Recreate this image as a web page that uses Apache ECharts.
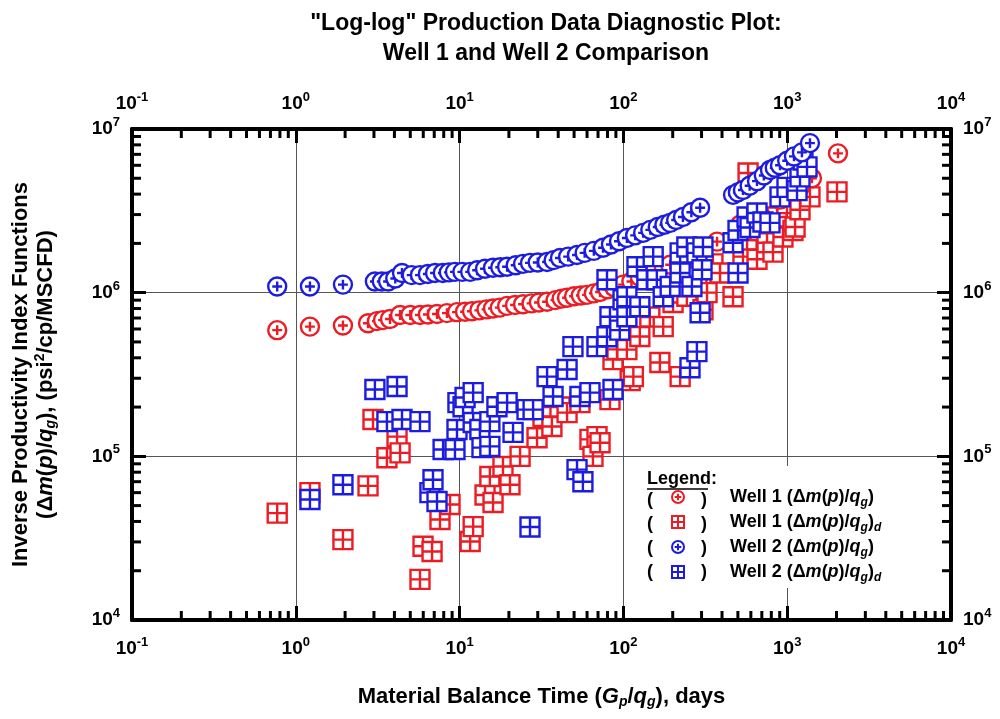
<!DOCTYPE html>
<html>
<head>
<meta charset="utf-8">
<title>Log-log Production Data Diagnostic Plot</title>
<script src="https://cdn.jsdelivr.net/npm/echarts@6.0.0/dist/echarts.min.js"></script>
<style>
html, body { margin: 0; padding: 0; background: #fff; }
#chart { width: 1000px; height: 719px; }
</style>
</head>
<body>
<div id="chart"></div>
<script>
// Well 1, (Δm(p)/qg) : [material balance time (days), value]
var well1Rate = [
  [0.77, 5.9e5], [1.22, 6.2e5], [1.94, 6.3e5], [2.76, 6.5e5], [3.13, 6.7e5], [3.41, 6.8e5],
  [3.76, 6.9e5], [4.33, 7.3e5], [5.0, 7.3e5], [5.73, 7.3e5], [6.41, 7.35e5], [7.28, 7.4e5],
  [8.37, 7.5e5], [9.64, 7.6e5], [10.8, 7.65e5], [11.9, 7.7e5], [13.2, 7.8e5], [14.6, 7.9e5],
  [16.0, 8.0e5], [17.6, 8.1e5], [19.5, 8.3e5], [21.8, 8.4e5], [24.4, 8.5e5], [27.5, 8.6e5],
  [30.5, 8.7e5], [34.2, 8.8e5], [38.5, 9.0e5], [42, 9.2e5], [45.3, 9.3e5], [50, 9.5e5],
  [55, 9.6e5], [60, 9.7e5], [66, 9.9e5], [72, 1.01e6], [80, 1.05e6], [88, 1.08e6],
  [99.5, 1.12e6], [112, 1.17e6], [126, 1.25e6], [156, 1.36e6], [193, 1.48e6], [238, 1.63e6],
  [294, 1.83e6], [373, 2.05e6], [515, 2.6e6], [682, 3.0e6], [904, 3.7e6], [1197, 4.4e6],
  [1416, 5.0e6], [2042, 7.1e6]
];
// Well 1, (Δm(p)/qg)d
var well1Deriv = [
  [0.77, 4.5e4], [1.22, 6.0e4], [1.94, 3.1e4], [2.76, 6.6e4], [2.96, 1.68e5], [3.60, 9.8e4],
  [4.15, 1.32e5], [4.33, 1.05e5], [5.73, 1.77e4], [5.98, 2.82e4], [6.79, 2.62e4], [7.59, 4.11e4],
  [8.74, 5.08e4], [11.6, 3.02e4], [12.1, 3.72e4], [14.3, 5.8e4], [15.3, 7.53e4], [16.0, 5.22e4],
  [18.4, 8.67e4], [20.3, 6.7e4], [23.4, 1.0e5], [29.7, 1.30e5], [32.3, 1.75e5], [36.6, 1.52e5],
  [41.0, 2.0e5], [45.3, 1.85e5], [54.3, 2.13e5], [62.5, 1.27e5], [65.2, 1.0e5], [69.0, 1.32e5],
  [72.0, 1.21e5], [82.8, 2.22e5], [86.4, 3.9e5], [91.4, 4.5e5], [105, 4.49e5], [110, 2.9e5],
  [115, 3.07e5], [126, 5.4e5], [145, 7.1e5], [167, 3.74e5], [175, 6.2e5], [201, 8.7e5],
  [222, 3.07e5], [244, 9.5e5], [281, 1.25e6], [306, 7.87e5], [324, 1.0e6], [352, 1.5e6],
  [389, 1.32e6], [467, 9.45e5], [537, 1.66e6], [569, 2.1e6], [577, 5.39e6], [654, 1.6e6],
  [682, 2.4e6], [753, 2.02e6], [819, 1.77e6], [867, 2.9e6], [942, 2.19e6], [997, 3.5e6],
  [1084, 2.4e6], [1117, 2.52e6], [1197, 3.21e6], [1377, 3.85e6], [2014, 4.13e6]
];
// Well 2, (Δm(p)/qg)
var well2Rate = [
  [0.77, 1.09e6], [1.22, 1.09e6], [1.94, 1.12e6], [3.04, 1.17e6], [3.35, 1.17e6], [3.66, 1.17e6],
  [4.05, 1.22e6], [4.45, 1.32e6], [5.1, 1.28e6], [5.73, 1.28e6], [6.4, 1.30e6], [7.08, 1.32e6],
  [7.9, 1.32e6], [8.6, 1.33e6], [9.37, 1.34e6], [10.4, 1.34e6], [11.6, 1.34e6], [12.8, 1.37e6],
  [14.3, 1.40e6], [16.0, 1.42e6], [17.7, 1.43e6], [19.5, 1.44e6], [22.0, 1.47e6], [24.4, 1.50e6],
  [26.9, 1.52e6], [30.0, 1.53e6], [34.2, 1.54e6], [37.5, 1.58e6], [41.0, 1.63e6], [46, 1.66e6],
  [52.1, 1.70e6], [58, 1.75e6], [66, 1.80e6], [75.1, 1.88e6], [84, 1.97e6], [94, 2.06e6],
  [105, 2.16e6], [118, 2.24e6], [132, 2.32e6], [146, 2.42e6], [162, 2.52e6], [178, 2.60e6],
  [193, 2.67e6], [210, 2.78e6], [231, 2.9e6], [260, 3.1e6], [294, 3.3e6], [467, 3.96e6],
  [500, 4.1e6], [537, 4.24e6], [590, 4.5e6], [654, 4.8e6], [720, 5.2e6], [785, 5.62e6],
  [840, 5.8e6], [904, 6.0e6], [1000, 6.4e6], [1100, 6.8e6], [1230, 7.2e6], [1377, 8.2e6]
];
// Well 2, (Δm(p)/qg)d
var well2Deriv = [
  [1.22, 5.45e4], [1.94, 6.7e4], [3.04, 2.56e5], [3.60, 1.63e5], [4.15, 2.67e5], [4.45, 1.68e5],
  [5.73, 1.63e5], [6.59, 6.0e4], [6.88, 7.2e4], [7.28, 5.3e4], [7.93, 1.1e5], [9.37, 1.1e5],
  [9.64, 1.46e5], [9.77, 2.13e5], [10.5, 2.01e5], [10.8, 2.29e5], [12.1, 1.61e5], [12.1, 2.45e5],
  [13.3, 1.46e5], [13.7, 1.13e5], [15.3, 1.63e5], [15.3, 1.15e5], [16.9, 2.01e5], [19.5, 2.13e5],
  [21.2, 1.40e5], [25.8, 1.93e5], [26.9, 3.7e4], [28.1, 1.93e5], [34.2, 3.07e5], [37.2, 2.32e5],
  [45.3, 3.39e5], [49.2, 4.68e5], [52.1, 8.3e4], [54.3, 2.32e5], [56.6, 7.0e4], [62.5, 2.45e5],
  [69.0, 4.68e5], [79.4, 5.38e5], [79.4, 1.20e6], [82.8, 7.13e5], [86.4, 2.56e5], [95, 5.9e5],
  [99.5, 9.05e5], [105, 9.45e5], [105, 7.13e5], [121, 1.44e6], [126, 8.2e5], [139, 1.2e6],
  [152, 1.66e6], [160, 1.2e6], [175, 9.45e5], [193, 1.09e6], [222, 1.75e6], [222, 1.32e6],
  [244, 1.9e6], [255, 3.48e5], [262, 1.09e6], [281, 1.75e6], [281, 4.36e5], [294, 7.54e5],
  [302, 1.38e6], [306, 1.9e6], [467, 2.02e6], [501, 1.32e6], [501, 2.4e6], [569, 2.9e6],
  [593, 2.5e6], [654, 3.07e6], [711, 2.7e6], [785, 2.67e6], [904, 3.85e6], [997, 4.4e6],
  [1148, 4.2e6], [1197, 5.1e6], [1248, 6.47e6], [1321, 5.87e6]
];

// minor tick positions (2..9 of each decade)
var xMinorTicks = [0.2, 0.3, 0.4, 0.5, 0.6, 0.7, 0.8, 0.9, 2, 3, 4, 5, 6, 7, 8, 9,
  20, 30, 40, 50, 60, 70, 80, 90, 200, 300, 400, 500, 600, 700, 800, 900,
  2000, 3000, 4000, 5000, 6000, 7000, 8000, 9000];
var yMinorTicks = [2e4, 3e4, 4e4, 5e4, 6e4, 7e4, 8e4, 9e4, 2e5, 3e5, 4e5, 5e5, 6e5, 7e5, 8e5, 9e5,
  2e6, 3e6, 4e6, 5e6, 6e6, 7e6, 8e6, 9e6];

var seriesNames = ['Well 1 (Δm(p)/qg)', 'Well 1 (Δm(p)/qg)d', 'Well 2 (Δm(p)/qg)', 'Well 2 (Δm(p)/qg)d'];

var FONT = '"Liberation Sans", Arial, Helvetica, sans-serif';
var RED = '#ec1c24';
var BLUE = '#1c1ce0';
var circlePlus = 'path://M0,10A10,10,0,1,1,20,10A10,10,0,1,1,0,10ZM10,4.5L10,15.5M4.5,10L15.5,10';
var squareGrid = 'path://M0,0L20,0L20,20L0,20ZM10,0L10,20M0,10L20,10';

var tickRich = {
  b: { fontFamily: FONT, fontWeight: 'bold', fontSize: 19, lineHeight: 26, color: '#000' },
  s: { fontFamily: FONT, fontWeight: 'bold', fontSize: 13, lineHeight: 13, verticalAlign: 'top', color: '#000' }
};
var nameRich = {
  r: { fontFamily: FONT, fontWeight: 'bold', fontSize: 22, lineHeight: 25, color: '#000' },
  i: { fontFamily: FONT, fontWeight: 'bold', fontStyle: 'italic', fontSize: 22, lineHeight: 25, color: '#000' },
  sub: { fontFamily: FONT, fontWeight: 'bold', fontStyle: 'italic', fontSize: 14, lineHeight: 13, verticalAlign: 'bottom', color: '#000' },
  sup: { fontFamily: FONT, fontWeight: 'bold', fontSize: 14, lineHeight: 13, verticalAlign: 'top', color: '#000' }
};
var legendRich = {
  f: { fontFamily: FONT, fontWeight: 'bold', fontSize: 18, lineHeight: 24, color: '#000', padding: [0, 0, 0, 41] },
  t: { fontFamily: FONT, fontWeight: 'bold', fontSize: 18, lineHeight: 24, color: '#000' },
  i: { fontFamily: FONT, fontWeight: 'bold', fontStyle: 'italic', fontSize: 18, lineHeight: 24, color: '#000' },
  sub: { fontFamily: FONT, fontWeight: 'bold', fontStyle: 'italic', fontSize: 12, lineHeight: 12, verticalAlign: 'bottom', color: '#000' }
};

function powLabel(v) {
  var e = Math.round(Math.log10(v));
  return '{b|10}{s|' + e + '}';
}

function legendLabel(name) {
  var well = name.slice(0, 6);
  var s = '{f|' + well + ' (Δ}{i|m}{t|(}{i|p}{t|)/}{i|q}{sub|g}{t|)}';
  if (name.charAt(name.length - 1) === 'd') s += '{sub|d}';
  return s;
}

function renderXMinor(params, api) {
  var cs = params.coordSys;
  var x = api.coord([api.value(0), api.value(1)])[0];
  var bottom = cs.y + cs.height;
  return {
    type: 'group',
    children: [
      { type: 'line', shape: { x1: x, y1: bottom, x2: x, y2: bottom - 9 }, style: { stroke: '#000', lineWidth: 3 } },
      { type: 'line', shape: { x1: x, y1: cs.y, x2: x, y2: cs.y + 9 }, style: { stroke: '#000', lineWidth: 3 } }
    ]
  };
}
function renderYMinor(params, api) {
  var cs = params.coordSys;
  var y = api.coord([api.value(0), api.value(1)])[1];
  var right = cs.x + cs.width;
  return {
    type: 'group',
    children: [
      { type: 'line', shape: { x1: cs.x, y1: y, x2: cs.x + 9, y2: y }, style: { stroke: '#000', lineWidth: 3 } },
      { type: 'line', shape: { x1: right, y1: y, x2: right - 9, y2: y }, style: { stroke: '#000', lineWidth: 3 } }
    ]
  };
}

function logAxis(position, min, max, withGrid, margin) {
  return {
    type: 'log',
    logBase: 10,
    position: position,
    min: min,
    max: max,
    axisLine: { show: true, onZero: false, lineStyle: { color: '#000', width: 4 } },
    axisTick: { show: true, inside: true, length: 14, lineStyle: { color: '#000', width: 3 } },
    axisLabel: { show: true, formatter: powLabel, rich: tickRich, margin: margin },
    splitLine: { show: withGrid, lineStyle: { color: '#555', width: 1 } },
    minorTick: { show: false }
  };
}

var chart = echarts.init(document.getElementById('chart'));

var xBottom = logAxis('bottom', 0.1, 10000, true, 16);
xBottom.name = '{r|Material Balance Time (}{i|G}{sub|p}{r|/}{i|q}{sub|g}{r|), days}';
xBottom.nameLocation = 'middle';
xBottom.nameGap = 64;
xBottom.nameTextStyle = { rich: nameRich };

var yLeft = logAxis('left', 1e4, 1e7, true, 12);
yLeft.name = '{r|Inverse Productivity Index Functions}\n{r|(Δ}{i|m}{r|(}{i|p}{r|)/}{i|q}{sub|g}{r|), (psi}{sup|2}{r|/cp/MSCFD)}';
yLeft.nameLocation = 'middle';
yLeft.nameGap = 74;
yLeft.nameTextStyle = { rich: nameRich, align: 'center' };

var option = {
  animation: false,
  backgroundColor: '#fff',
  title: {
    text: '"Log-log" Production Data Diagnostic Plot:\nWell 1 and Well 2 Comparison',
    left: 541,
    top: 4,
    textAlign: 'center',
    textStyle: { fontFamily: FONT, fontWeight: 'bold', fontSize: 23, lineHeight: 30, color: '#000' }
  },
  grid: { left: 132, right: 49, top: 129, bottom: 99, containLabel: false },
  xAxis: [xBottom, logAxis('top', 0.1, 10000, false, 12)],
  yAxis: [yLeft, logAxis('right', 1e4, 1e7, false, 12)],
  legend: {
    data: [seriesNames[0], seriesNames[1], seriesNames[2], seriesNames[3]],
    orient: 'vertical',
    left: 666,
    top: 483,
    itemGap: 4,
    itemWidth: 12,
    itemHeight: 12,
    selectedMode: false,
    formatter: legendLabel,
    textStyle: { rich: legendRich }
  },
  graphic: [
    { type: 'rect', shape: { x: 632, y: 466, width: 308, height: 122 }, style: { fill: '#fff' }, z: 3 },
    { type: 'text', x: 647, y: 479, z: 6, style: { text: 'Legend:', fill: '#000', font: 'bold 18px ' + FONT, verticalAlign: 'middle' } },
    { type: 'line', shape: { x1: 647, y1: 489, x2: 708, y2: 489 }, style: { stroke: '#000', lineWidth: 1.5 }, z: 6 },
    { type: 'text', x: 647, y: 500, z: 6, style: { text: '(', fill: '#000', font: 'bold 18px ' + FONT, verticalAlign: 'middle' } },
    { type: 'text', x: 647, y: 524, z: 6, style: { text: '(', fill: '#000', font: 'bold 18px ' + FONT, verticalAlign: 'middle' } },
    { type: 'text', x: 647, y: 548, z: 6, style: { text: '(', fill: '#000', font: 'bold 18px ' + FONT, verticalAlign: 'middle' } },
    { type: 'text', x: 647, y: 572, z: 6, style: { text: '(', fill: '#000', font: 'bold 18px ' + FONT, verticalAlign: 'middle' } },
    { type: 'text', x: 701, y: 500, z: 6, style: { text: ')', fill: '#000', font: 'bold 18px ' + FONT, verticalAlign: 'middle' } },
    { type: 'text', x: 701, y: 524, z: 6, style: { text: ')', fill: '#000', font: 'bold 18px ' + FONT, verticalAlign: 'middle' } },
    { type: 'text', x: 701, y: 548, z: 6, style: { text: ')', fill: '#000', font: 'bold 18px ' + FONT, verticalAlign: 'middle' } },
    { type: 'text', x: 701, y: 572, z: 6, style: { text: ')', fill: '#000', font: 'bold 18px ' + FONT, verticalAlign: 'middle' } }
  ],
  series: [
    {
      name: seriesNames[1], type: 'scatter', data: well1Deriv, symbol: squareGrid, symbolSize: 19,
      itemStyle: { color: '#fff', borderColor: RED, borderWidth: 2.4, opacity: 1 }
    },
    {
      name: seriesNames[0], type: 'scatter', data: well1Rate, symbol: circlePlus, symbolSize: 18,
      itemStyle: { color: '#fff', borderColor: RED, borderWidth: 2.4, opacity: 1 }
    },
    {
      name: seriesNames[3], type: 'scatter', data: well2Deriv, symbol: squareGrid, symbolSize: 19,
      itemStyle: { color: '#fff', borderColor: BLUE, borderWidth: 2.4, opacity: 1 }
    },
    {
      name: seriesNames[2], type: 'scatter', data: well2Rate, symbol: circlePlus, symbolSize: 18,
      itemStyle: { color: '#fff', borderColor: BLUE, borderWidth: 2.4, opacity: 1 }
    },
    {
      name: 'xMinor', type: 'custom', renderItem: renderXMinor, silent: true, z: 5,
      data: xMinorTicks.map(function (v) { return [v, 1e5]; })
    },
    {
      name: 'yMinor', type: 'custom', renderItem: renderYMinor, silent: true, z: 5,
      data: yMinorTicks.map(function (v) { return [1, v]; })
    }
  ]
};

chart.setOption(option);
</script>
</body>
</html>
